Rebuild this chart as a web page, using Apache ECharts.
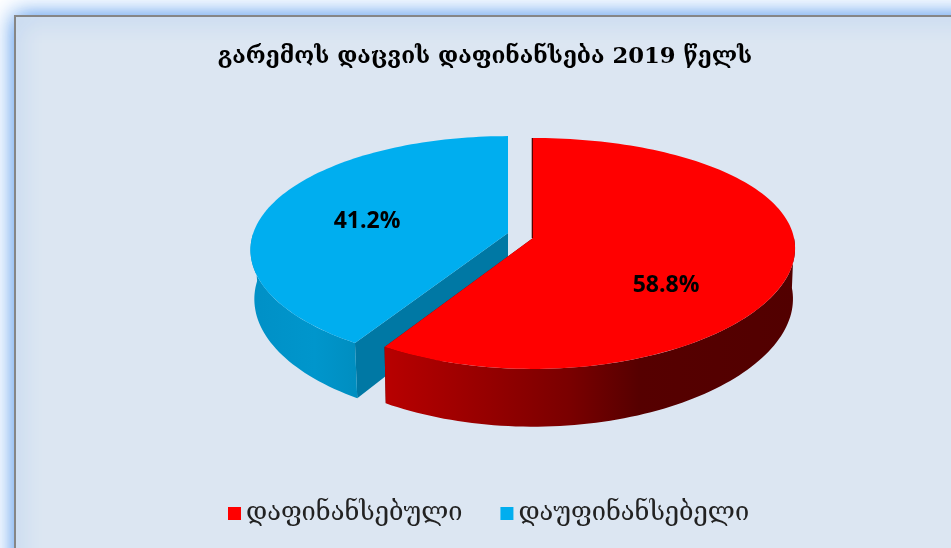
<!DOCTYPE html>
<html><head><meta charset="utf-8">
<style>html,body{margin:0;padding:0;background:#fff;overflow:hidden}#c{width:951px;height:548px}</style>
<script src="https://cdn.jsdelivr.net/npm/echarts@6/dist/echarts.min.js"></script>
</head><body><div id="c"></div>
<script>
const titleText = 'გარემოს დაცვის დაფინანსება 2019 წელს';
const categories = ['დაფინანსებული', 'დაუფინანსებელი'];
const values = [58.8, 41.2];
const colors = ['#ff0000', '#00aeef'];
const total = values[0] + values[1];

const rad = d => d * Math.PI / 180;
function project(g, deg, r) {
  const u = r * Math.sin(rad(deg)), v = r * Math.cos(rad(deg));
  return { x: g.cx + g.A * u / (1 + g.Kx * v), y: g.cy - g.B * v / (1 + g.Ky * v), w: 1 + g.Ky * v };
}
function lower(g, p) { return [g.cx + (p.x - g.cx) * g.shrink, p.y + g.depth / p.w]; }
function rimPts(g, a0, a1) {
  const out = [], n = Math.max(2, Math.ceil(Math.abs(a1 - a0) / 1.5));
  for (let i = 0; i <= n; i++) out.push(project(g, a0 + (a1 - a0) * i / n, 1));
  return out;
}
function sliceItem(idx, g, sideStops, gradDir, faceColor, labelPos) {
  return function (params, api) {
    const before = idx === 0 ? 0 : values[0];
    const a0 = before / total * 360, a1 = a0 + api.value(0) / total * 360;
    const apex = project(g, 0, 0);
    const rim = rimPts(g, a0, a1);
    const top = [[apex.x, apex.y]].concat(rim.map(p => [p.x, p.y]));
    const visA = idx === 0 ? 90 : a0, visB = idx === 0 ? a1 : 270;
    const side = rimPts(g, visA, visB);
    const sidePoly = side.map(p => [p.x, p.y]).concat(side.slice().reverse().map(p => lower(g, p)));
    const children = [];
    const cutP = idx === 0 ? project(g, a1, 1) : project(g, a0, 1);
    children.push({ type: 'polygon', shape: { points: [[apex.x, apex.y], [cutP.x, cutP.y], lower(g, cutP), lower(g, apex)] },
      style: { fill: faceColor } });
    children.push({ type: 'polygon', shape: { points: sidePoly },
      style: { fill: new echarts.graphic.LinearGradient(gradDir[0], 0, gradDir[1], 0, sideStops) } });
    if (idx === 0) {
      const back = project(g, a0, 1);
      children.push({ type: 'line', shape: { x1: back.x - 0.5, y1: back.y, x2: apex.x - 0.5, y2: apex.y },
        style: { stroke: '#5a0000', lineWidth: 1.6 } });
    }
    children.push({ type: 'polygon', shape: { points: top }, style: { fill: colors[idx] } });
    children.push({ type: 'text', x: labelPos[0], y: labelPos[1],
      style: { text: api.value(0).toFixed(1) + '%', fill: '#000', font: 'bold 23px "Open Sans", sans-serif', align: 'center', verticalAlign: 'middle' } });
    return { type: 'group', children };
  };
}
const geomRed = { cx: 533, cy: 238, A: 261, B: 113.4, Kx: 0.09, Ky: 0.134, depth: 50, shrink: 0.992 };
const geomBlue = { cx: 508, cy: 233, A: 254.7, B: 112, Kx: 0.148, Ky: 0.156, depth: 48, shrink: 0.985 };
const chart = echarts.init(document.getElementById('c'), null, { renderer: 'canvas' });
chart.setOption({
  animation: false,
  graphic: [{ type: 'rect', z: -10, shape: { x: 15, y: 16, width: 1000, height: 600 },
    style: { fill: '#dce6f2', stroke: '#868686', lineWidth: 2, shadowBlur: 22, shadowColor: '#3f8ae8' } }],
  title: { text: titleText, left: 480, top: 41, textAlign: 'center',
    textStyle: { fontFamily: '"DejaVu Serif", serif', fontSize: 22.7, fontWeight: 'bold', color: '#000' } },
  legend: { data: categories, left: 223, top: 496, itemWidth: 13, itemHeight: 13, itemGap: 38, icon: 'rect',
    textStyle: { fontFamily: '"DejaVu Serif", serif', fontSize: 25.4, color: '#222' } },
  series: [
    { type: 'custom', name: categories[1], coordinateSystem: 'none', z: 2, itemStyle: { color: colors[1] }, data: [[values[1]]],
      encode: { value: 0 },
      renderItem: sliceItem(1, geomBlue, [{ offset: 0, color: '#0090c6' }, { offset: 0.6, color: '#0096cc' }, { offset: 1, color: '#008ec0' }], [0, 1], '#0078a4', [367, 221]) },
    { type: 'custom', name: categories[0], coordinateSystem: 'none', z: 3, itemStyle: { color: colors[0] }, data: [[values[0]]],
      encode: { value: 0 },
      renderItem: sliceItem(0, geomRed, [{ offset: 0, color: '#b80000' }, { offset: 0.45, color: '#7a0000' }, { offset: 0.62, color: '#560000' }, { offset: 1, color: '#520000' }], [0, 1], '#5a0000', [666, 285]) }
  ]
});
</script></body></html>
